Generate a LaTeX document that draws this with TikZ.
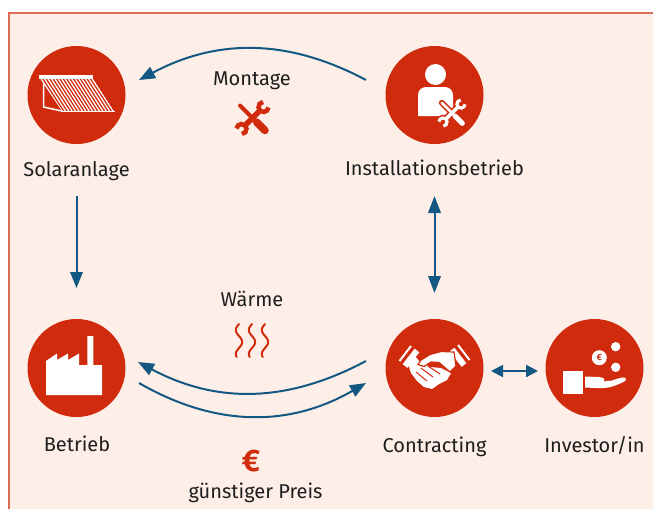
\documentclass[tikz,border=0pt]{standalone}
\usepackage{fontspec}
\setmainfont{Fira Sans}
\usetikzlibrary{arrows.meta,calc}
\definecolor{bgc}{RGB}{253,239,232}
\definecolor{borderc}{RGB}{222,108,88}
\definecolor{cred}{RGB}{208,43,13}
\definecolor{cblue}{RGB}{18,88,130}
\definecolor{ctext}{RGB}{30,30,30}
\tikzset{
  pics/tools/.style n args={3}{code={
    \draw[#1, line width=4pt*#3+#2, line cap=round] (-12.5,12.5) -- (2,-2);
    \draw[#1, line width=7.5pt*#3+#2, line cap=round] (4,-4) -- (12.5,-12.5);
    \draw[#1, line width=5.5pt*#3+#2] (-8,-8) -- (8,8);
    \draw[#1, line width=4.5pt*#3+#2] (11,11) ++(95:5) arc[start angle=95, end angle=355, radius=5];
    \draw[#1, line width=4.5pt*#3+#2] (-11,-11) ++(275:5) arc[start angle=275, end angle=535, radius=5];
  }}
}
\begin{document}
\begin{tikzpicture}[x=1pt,y=1pt,
  disc/.style={circle, fill=cred, minimum size=98pt, inner sep=0pt},
  lab/.style={font=\fontsize{20}{24}\selectfont, text=ctext, anchor=base, inner sep=0pt},
  arr/.style={draw=cblue, line width=2pt, -{Triangle[length=16pt,width=12.5pt]}},
  darr/.style={draw=cblue, line width=2pt, {Triangle[length=17pt,width=12.5pt]}-{Triangle[length=17pt,width=12.5pt]}},
  darrs/.style={draw=cblue, line width=2pt, {Triangle[length=12pt,width=12pt]}-{Triangle[length=12pt,width=12pt]}},
  wave/.style={draw=cred, line width=2pt, line cap=round},
]
\useasboundingbox (0,-509) rectangle (653,0);
\fill[bgc] (9,-13) rectangle (653,-509);
\draw[borderc, line width=1.3pt] (9,-509) -- (9,-13) -- (653,-13);

% circles
\node[disc] (sol) at (76.5,-95) {};
\node[disc] (inst) at (434.5,-95) {};
\node[disc] (bet) at (76.5,-368) {};
\node[disc] (con) at (434.5,-368) {};
\node[disc] (inv) at (594.5,-368) {};

% labels
\node[lab] (solL) at (76.5,-176) {Solaranlage};
\node[lab] (instL) at (434.5,-175.5) {Installationsbetrieb};
\node[lab] (montL) at (252,-85) {Montage};
\node[lab] (waermL) at (252,-306) {Wärme};
\node[lab] (betL) at (77,-451.7) {Betrieb};
\node[lab] (conL) at (434.5,-452) {Contracting};
\node[lab] (invL) at (594.5,-452) {Investor/in};
\node[lab] (preisL) at (255.5,-498) {günstiger Preis};
\node[font=\bfseries\fontsize{31}{31}\selectfont, text=cred, inner sep=0pt] (euro) at (251,-461) {€};

% connectors
\draw[arr] ($(sol)+(0,-101)$) -- ($(bet)+(0,80)$);
\draw[darr] ($(inst)+(0,-101)$) -- ($(con)+(0,75)$);
\draw[arr] ($(inst)+(-68.5,15)$) to[out=152,in=28] ($(sol)+(62.5,15)$);
\draw[arr] ($(con)+(-68.5,7)$) to[out=208,in=-28] ($(bet)+(61.5,6)$);
\draw[arr] ($(bet)+(62.5,-15)$) to[out=-30,in=210] ($(con)+(-68.5,-15)$);
\draw[darrs] ($(con)+(56.5,-3)$) -- ($(inv)+(-56.5,-3)$);

% solar panel icon
\begin{scope}
  \clip (39,-77) -- (92,-77) -- (114,-111) -- (62,-111) -- cycle;
  \foreach \i in {0,...,15} \draw[white, line width=1.3pt] (40+3.4*\i,-77) -- (62+3.4*\i,-111);
\end{scope}
\fill[white] (38.5,-75) rectangle (93,-78.5);
\draw[white, line width=1.3pt] (61.5,-111.3) -- (114.5,-111.3);
\draw[white, line width=1.5pt] (45,-84.5) -- (43.5,-84.5) -- (43.5,-107) -- (63,-111.3);

% person with tools
\fill[white] (435.5,-74.5) circle (10.5);
\fill[white] (418,-116) -- (418,-95) to[out=90,in=180] (426,-87) -- (445,-87) to[out=0,in=90] (453,-95) -- (453,-116) -- cycle;
\pic[scale=0.82] at (452,-113) {tools={cred}{3pt}{0.7}};
\pic[scale=0.82] at (452,-113) {tools={white}{0pt}{0.7}};

% montage tools
\pic at (252.5,-118) {tools={cred}{0pt}{1}};

% factory
\fill[white] (46,-395) -- (46,-361) -- (57,-353.5) -- (57,-360) -- (68,-353.5) -- (68,-360) -- (79,-353.5) -- (79,-365) -- (87.3,-365) -- (87.3,-336) -- (93.3,-336) -- (93.3,-365) -- (102,-365) -- (102,-395) -- cycle;

% heat waves
\foreach \xx in {239,252,265}
  \draw[wave] plot[variable=\t, domain=0:33, samples=50] ({\xx-3.2*sin(\t*15)}, {-324-\t});

% handshake
\draw[white, line width=2pt] (399.5,-361) -- (411,-346);
\draw[white, line width=6pt] (405,-366) -- (417,-350.5);
\draw[white, line width=2pt] (469.5,-360) -- (458,-345);
\draw[white, line width=6pt] (464,-365) -- (452,-349.5);
\fill[white] (414,-355) -- (420,-362) -- (430,-367) -- (441,-368) -- (451,-373) -- (447,-380) -- (439,-384) -- (432,-389) -- (424,-387) -- (417,-381) -- (411,-373) -- (408,-364) -- cycle;
\draw[cred, line width=1pt] (416,-372) -- (427,-381);
\draw[cred, line width=1pt] (421,-368) -- (433,-377);
\draw[cred, line width=1pt] (428,-366) -- (440,-374);
\filldraw[fill=white, draw=cred, line width=1.2pt] (454,-352) -- (441,-351.5) -- (430,-354.5) -- (421,-360) -- (418,-364.5) -- (424,-366.5) -- (431,-362) -- (439,-362.5) -- (450,-372) -- (456,-366) -- cycle;

% investor
\fill[white] (563.3,-371) rectangle (583.3,-394.3);
\fill[white] (585,-376.5) -- (598,-377) .. controls (604,-377) and (606,-380) .. (603,-381.5) -- (612,-380.5) .. controls (618,-378.5) and (624,-376) .. (626,-378.5) .. controls (627,-381.5) and (620,-383.5) .. (614,-386) .. controls (606,-389) and (596,-388) .. (585,-387.5) -- cycle;
\fill[white] (599.3,-357.7) circle (7.5);
\node[text=cred, font=\bfseries\fontsize{9}{9}\selectfont, inner sep=0pt] (coin) at (599.3,-357.7) {€};
\fill[white] (615.7,-346.7) circle (4.7);
\fill[white] (615.7,-367.3) circle (4.7);
\end{tikzpicture}
\end{document}
